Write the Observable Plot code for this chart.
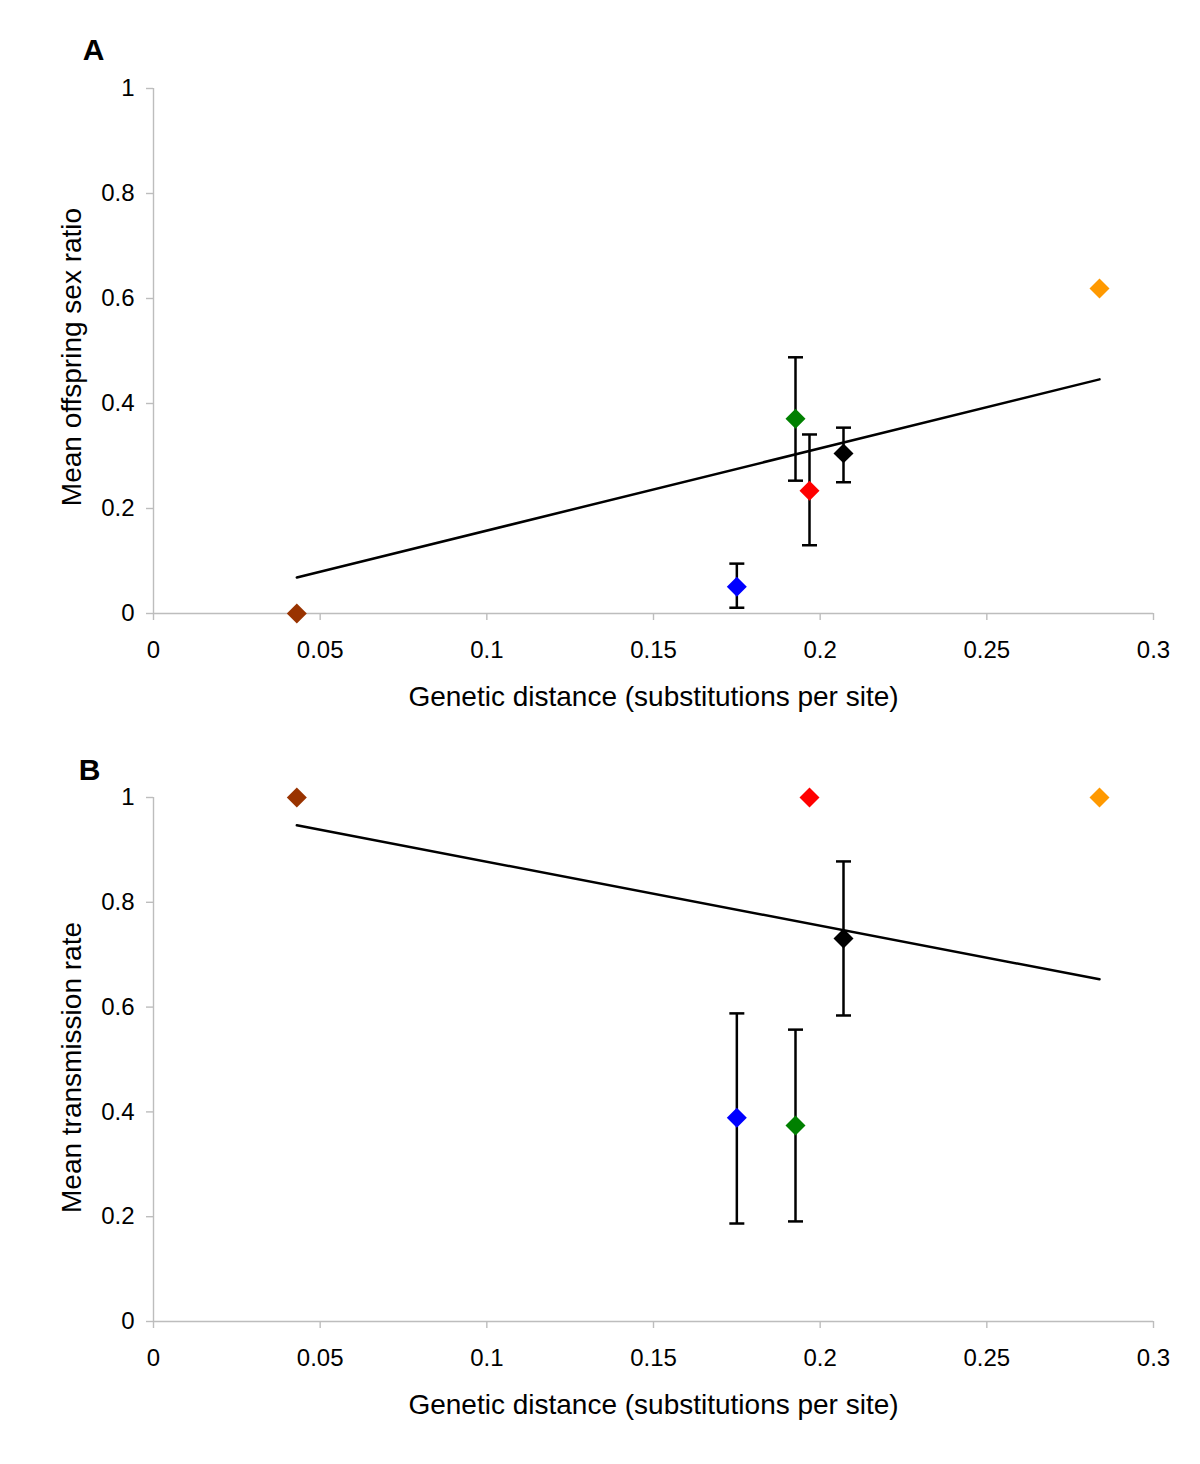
<!DOCTYPE html>
<html>
<head>
<meta charset="utf-8">
<script src="https://cdn.jsdelivr.net/npm/d3@7"></script>
<script src="https://cdn.jsdelivr.net/npm/@observablehq/plot@0.6"></script>
<style>
  html, body { margin: 0; padding: 0; background: #fff; }
  #chart { width: 1200px; }
  #chart svg { display: block; }
</style>
</head>
<body>
<div id="chart"></div>
<script>
// ---- Data ----
const pointColors = ["#993300", "#0000ff", "#008000", "#ff0000", "#000000", "#ff9900"];
const distance = [0.043, 0.175, 0.1926, 0.1968, 0.207, 0.2838];

// Panel A: mean offspring sex ratio
const sexRatio     = [0, 0.051, 0.371, 0.234, 0.305, 0.619];
const sexRatioLow  = [null, 0.011, 0.253, 0.130, 0.250, null];
const sexRatioHigh = [null, 0.095, 0.488, 0.341, 0.354, null];
const trendA_x = [0.043, 0.2838];
const trendA_y = [0.0686, 0.446];

// Panel B: mean transmission rate
const transmission     = [1, 0.389, 0.374, 1, 0.731, 1];
const transmissionLow  = [null, 0.187, 0.191, null, 0.584, null];
const transmissionHigh = [null, 0.588, 0.557, null, 0.878, null];
const trendB_x = [0.043, 0.2838];
const trendB_y = [0.947, 0.653];

// Axis ticks
const xTicks = [0, 0.05, 0.1, 0.15, 0.2, 0.25, 0.3];
const xTickLabels = ["0", "0.05", "0.1", "0.15", "0.2", "0.25", "0.3"];
const yTicks = [0, 0.2, 0.4, 0.6, 0.8, 1];
const yTickLabels = ["0", "0.2", "0.4", "0.6", "0.8", "1"];

const xLabel = "Genetic distance (substitutions per site)";

// ---- Rendering ----
const FONT = "'Liberation Sans', Arial, Helvetica, sans-serif";
const AXIS_GRAY = "#bdbdbd";
const capSymbol = {
  draw(context) { context.moveTo(-7.5, 0); context.lineTo(7.5, 0); }
};

function panel({letter, yVals, yLow, yHigh, tx, ty, yLabel, height, marginTop, marginBottom, letterDx, letterDy, yLabelDy}) {
  const pts = distance.map((x, i) => ({x, y: yVals[i], color: pointColors[i], lo: yLow[i], hi: yHigh[i]}));
  const bars = pts.filter(d => d.lo != null);
  const trend = tx.map((x, i) => ({x, y: ty[i]}));
  return Plot.plot({
    width: 1200,
    height,
    marginLeft: 153,
    marginRight: 47,
    marginTop,
    marginBottom,
    style: {fontFamily: FONT, fontSize: "24px", background: "#fff", color: "#000"},
    x: {domain: [0, 0.3]},
    y: {domain: [0, 1]},
    color: {type: "identity"},
    marks: [
      Plot.ruleY([0], {stroke: AXIS_GRAY, strokeWidth: 1.4}),
      Plot.ruleX([0], {stroke: AXIS_GRAY, strokeWidth: 1.4}),
      Plot.axisX({ticks: xTicks, tickFormat: d => xTickLabels[xTicks.indexOf(d)], tickSize: 7, tickPadding: 20,
                  stroke: AXIS_GRAY, strokeWidth: 1.4, fill: "#000", label: null, fontSize: 24}),
      Plot.axisY({ticks: yTicks, tickFormat: d => yTickLabels[yTicks.indexOf(d)], tickSize: 7, tickPadding: 12,
                  stroke: AXIS_GRAY, strokeWidth: 1.4, fill: "#000", label: null, fontSize: 24}),
      Plot.line(trend, {x: "x", y: "y", stroke: "#000", strokeWidth: 2.5}),
      Plot.ruleX(bars, {x: "x", y1: "lo", y2: "hi", stroke: "#000", strokeWidth: 2.5}),
      Plot.dot(bars, {x: "x", y: "lo", symbol: capSymbol, stroke: "#000", strokeWidth: 2.5, fill: "none"}),
      Plot.dot(bars, {x: "x", y: "hi", symbol: capSymbol, stroke: "#000", strokeWidth: 2.5, fill: "none"}),
      Plot.dot(pts, {x: "x", y: "y", symbol: "diamond2", r: 9, fill: "color", stroke: "none"}),
      Plot.text([xLabel], {frameAnchor: "bottom", text: d => d, dy: 84, fontSize: 28, fill: "#000", textAnchor: "middle", lineAnchor: "middle"}),
      Plot.text([yLabel], {frameAnchor: "left", text: d => d, dx: -81, dy: yLabelDy, rotate: -90, fontSize: 28, fill: "#000", textAnchor: "middle", lineAnchor: "middle"}),
      Plot.text([letter], {frameAnchor: "top-left", text: d => d, dx: letterDx, dy: letterDy, fontSize: 30, fontWeight: "bold", fill: "#000", textAnchor: "middle", lineAnchor: "middle"})
    ]
  });
}

const chart = document.getElementById("chart");
chart.appendChild(panel({
  letter: "A", yVals: sexRatio, yLow: sexRatioLow, yHigh: sexRatioHigh, tx: trendA_x, ty: trendA_y,
  yLabel: "Mean offspring sex ratio", height: 720, marginTop: 88, marginBottom: 107,
  letterDx: -60, letterDy: -38, yLabelDy: 6
}));
chart.appendChild(panel({
  letter: "B", yVals: transmission, yLow: transmissionLow, yHigh: transmissionHigh, tx: trendB_x, ty: trendB_y,
  yLabel: "Mean transmission rate", height: 744, marginTop: 77, marginBottom: 143,
  letterDx: -64, letterDy: -27, yLabelDy: 8
}));
</script>
</body>
</html>
